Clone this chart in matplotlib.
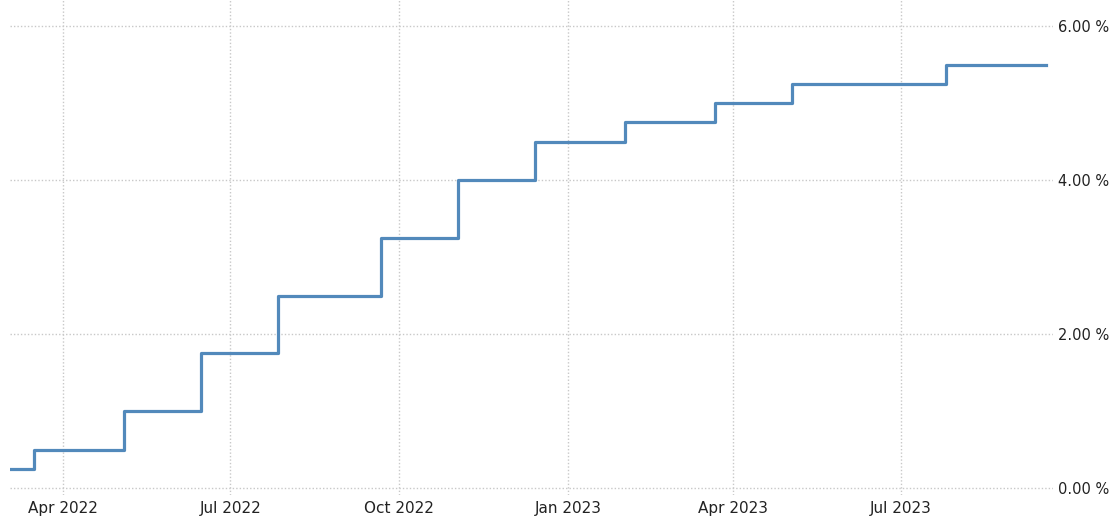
import pandas as pd
import matplotlib
matplotlib.use('Agg')
import matplotlib.pyplot as plt
import matplotlib.ticker as plticker

# rate changes (upper bound), step-post
dates = ["2022-03-03", "2022-03-16", "2022-05-04", "2022-06-15", "2022-07-27",
         "2022-09-21", "2022-11-02", "2022-12-14", "2023-02-01", "2023-03-22",
         "2023-05-03", "2023-07-26", "2023-09-18"]
rates = [0.25, 0.50, 1.00, 1.75, 2.50, 3.25, 4.00, 4.50, 4.75, 5.00, 5.25, 5.50, 5.50]

tick_dates = ["2022-04-01", "2022-07-01", "2022-10-01", "2023-01-01", "2023-04-01", "2023-07-01"]
tick_labels = ["Apr 2022", "Jul 2022", "Oct 2022", "Jan 2023", "Apr 2023", "Jul 2023"]
y_ticks = [0, 2, 4, 6]

x = pd.to_datetime(dates)

fig = plt.figure(figsize=(11.13, 5.19), dpi=100)
ax = fig.add_axes([0.009, 0.046, 0.937, 0.954])

ax.plot(x, rates, drawstyle='steps-post', color='#5289bb', linewidth=2.3, solid_joinstyle='round')

ax.set_xlim(pd.Timestamp("2022-03-03"), pd.Timestamp("2023-09-22"))
ax.set_ylim(-0.09, 6.34)

ax.set_xticks(pd.to_datetime(tick_dates))
ax.set_xticklabels(tick_labels)
ax.set_yticks(y_ticks)
ax.yaxis.set_major_formatter(plticker.FuncFormatter(lambda v, p: '%.2f %%' % v))
ax.yaxis.tick_right()

ax.grid(True, color='#c8c8c8', linestyle=(0, (1, 1.5)), linewidth=1)
for s in ax.spines.values():
    s.set_visible(False)
ax.tick_params(length=0, labelsize=11, colors='#222222')
ax.tick_params(axis='y', pad=4, labelsize=10.5)
ax.tick_params(axis='x', pad=4)

fig.savefig('out.png', dpi=100)
